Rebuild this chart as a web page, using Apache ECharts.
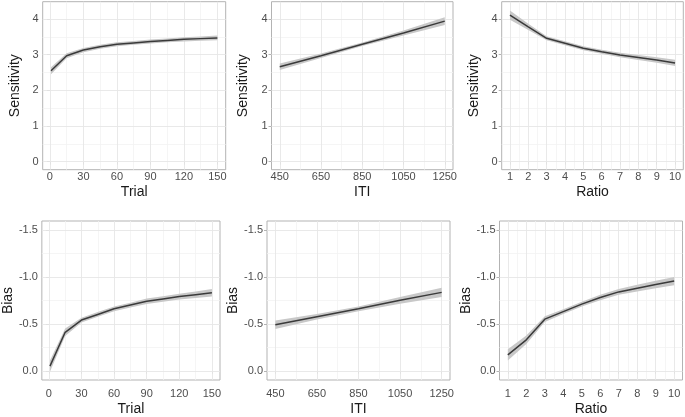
<!DOCTYPE html>
<html>
<head>
<meta charset="utf-8">
<script src="https://cdn.jsdelivr.net/npm/echarts@6/dist/echarts.min.js"></script>
<style>
html,body{margin:0;padding:0;background:#fff;}
#chart{width:685px;height:417px;}
</style>
</head>
<body>
<div id="chart"></div>
<script>
// ---- data ----
var trial = [1, 15, 30, 45, 60, 75, 90, 105, 120, 135, 150];
var iti = [450, 650, 850, 1050, 1250];
var ratio = [1, 2, 3, 4, 5, 6, 7, 8, 9, 10];

var sensTrial   = [2.55, 2.97, 3.13, 3.22, 3.29, 3.33, 3.37, 3.40, 3.43, 3.45, 3.47];
var sensTrialCI = [0.10, 0.07, 0.06, 0.055, 0.055, 0.055, 0.055, 0.055, 0.06, 0.06, 0.065];
var sensITI     = [2.66, 2.97, 3.29, 3.61, 3.94];
var sensITICI   = [0.09, 0.06, 0.05, 0.07, 0.11];
var sensRatio   = [4.11, 3.78, 3.46, 3.32, 3.18, 3.08, 2.99, 2.92, 2.85, 2.77];
var sensRatioCI = [0.13, 0.09, 0.055, 0.055, 0.055, 0.055, 0.065, 0.07, 0.075, 0.085];

var biasTrial   = [-0.05, -0.41, -0.54, -0.60, -0.66, -0.70, -0.74, -0.765, -0.79, -0.81, -0.83];
var biasTrialCI = [0.06, 0.04, 0.025, 0.025, 0.025, 0.025, 0.03, 0.03, 0.03, 0.035, 0.04];
var biasITI     = [-0.49, -0.575, -0.66, -0.75, -0.835];
var biasITICI   = [0.045, 0.03, 0.025, 0.035, 0.05];
var biasRatio   = [-0.17, -0.33, -0.55, -0.63, -0.71, -0.78, -0.84, -0.88, -0.92, -0.955];
var biasRatioCI = [0.06, 0.045, 0.03, 0.025, 0.025, 0.03, 0.03, 0.035, 0.04, 0.045];

// tick labels / breaks
var trialTicks = [0, 30, 60, 90, 120, 150];
var trialMinor = [15, 45, 75, 105, 135];
var itiTicks = [450, 650, 850, 1050, 1250];
var itiMinor = [550, 750, 950, 1150];
var ratioTicks = [1, 2, 3, 4, 5, 6, 7, 8, 9, 10];
var ratioMinor = [1.5, 2.5, 3.5, 4.5, 5.5, 6.5, 7.5, 8.5, 9.5];
var sensTicks = [0, 1, 2, 3, 4];
var sensMinor = [0.5, 1.5, 2.5, 3.5];
var biasTicks = [-1.5, -1.0, -0.5, 0];
var biasMinor = [-1.25, -0.75, -0.25];

// ---- layout ----
var FONT = 'Liberation Sans, Arial, sans-serif';
var panels = [
  {x: trial, y: sensTrial, ci: sensTrialCI, xt: trialTicks, xm: trialMinor, yt: sensTicks, ym: sensMinor, xr: [-6.45, 157.45], yr: [-0.224, 4.485], inv: false, xn: 'Trial', yn: 'Sensitivity', g: {left: 42.7, top: 1.7, width: 183, height: 168}},
  {x: iti, y: sensITI, ci: sensITICI, xt: itiTicks, xm: itiMinor, yt: sensTicks, ym: sensMinor, xr: [410, 1290], yr: [-0.224, 4.485], inv: false, xn: 'ITI', yn: 'Sensitivity', g: {left: 271.5, top: 1.7, width: 181.5, height: 168}},
  {x: ratio, y: sensRatio, ci: sensRatioCI, xt: ratioTicks, xm: ratioMinor, yt: sensTicks, ym: sensMinor, xr: [0.55, 10.45], yr: [-0.224, 4.485], inv: false, xn: 'Ratio', yn: 'Sensitivity', g: {left: 501.7, top: 1.7, width: 181.6, height: 168}},
  {x: trial, y: biasTrial, ci: biasTrialCI, xt: trialTicks, xm: trialMinor, yt: biasTicks, ym: biasMinor, xr: [-6.45, 157.45], yr: [-1.595, 0.098], inv: true, xn: 'Trial', yn: 'Bias', g: {left: 36.7, top: 221, width: 183.3, height: 160.5}},
  {x: iti, y: biasITI, ci: biasITICI, xt: itiTicks, xm: itiMinor, yt: biasTicks, ym: biasMinor, xr: [410, 1290], yr: [-1.595, 0.098], inv: true, xn: 'ITI', yn: 'Bias', g: {left: 267, top: 221, width: 183, height: 160.5}},
  {x: ratio, y: biasRatio, ci: biasRatioCI, xt: ratioTicks, xm: ratioMinor, yt: biasTicks, ym: biasMinor, xr: [0.55, 10.45], yr: [-1.595, 0.098], inv: true, xn: 'Ratio', yn: 'Bias', g: {left: 499.5, top: 221, width: 183, height: 160.5}}
];

var grids = [], xAxes = [], yAxes = [], series = [];
panels.forEach(function (p, i) {
  grids.push(Object.assign({show: true, borderColor: '#b3b3b3', borderWidth: 1, containLabel: false}, p.g));
  var isBias = p.inv;
  xAxes.push({
    type: 'value', gridIndex: i, min: p.xr[0], max: p.xr[1],
    name: p.xn, nameLocation: 'middle', nameGap: isBias ? 22 : 15,
    nameTextStyle: {fontFamily: FONT, fontSize: 14, color: '#1a1a1a'},
    axisLine: {show: false},
    axisTick: {show: true, length: 3, lineStyle: {color: '#b3b3b3', width: 1}, customValues: p.xt},
    axisLabel: {show: true, margin: isBias ? 8 : 2, fontFamily: FONT, fontSize: 11, color: '#4d4d4d', customValues: p.xt,
      formatter: function (v) { return String(v); }},
    splitLine: {show: false}
  });
  yAxes.push({
    type: 'value', gridIndex: i, min: p.yr[0], max: p.yr[1], inverse: p.inv,
    name: p.yn, nameLocation: 'middle', nameGap: 21,
    nameTextStyle: {fontFamily: FONT, fontSize: 14, color: '#1a1a1a'},
    axisLine: {show: false},
    axisTick: {show: true, length: 3, lineStyle: {color: '#b3b3b3', width: 1}, customValues: p.yt},
    axisLabel: {show: true, margin: 4, fontFamily: FONT, fontSize: 11, color: '#4d4d4d', customValues: p.yt,
      formatter: isBias ? function (v) { return (Math.abs(v) < 1e-9 ? 0 : v).toFixed(1); } : function (v) { return String(v); }},
    splitLine: {show: false}
  });
  var mid = [], rib = [];
  for (var k = 0; k < p.x.length; k++) {
    mid.push([p.x[k], p.y[k]]);
    rib.push([p.x[k], p.y[k] - p.ci[k], p.y[k] + p.ci[k]]);
  }
  var majorLines = [], minorLines = [];
  p.xt.forEach(function (v) { majorLines.push({xAxis: v}); });
  p.yt.forEach(function (v) { majorLines.push({yAxis: v}); });
  p.xm.forEach(function (v) { minorLines.push({xAxis: v}); });
  p.ym.forEach(function (v) { minorLines.push({yAxis: v}); });
  // grid lines helper series
  series.push({
    type: 'line', xAxisIndex: i, yAxisIndex: i, data: mid, z: 1, silent: true, animation: false,
    showSymbol: false, symbol: 'none', lineStyle: {opacity: 0},
    markLine: {z: 1, silent: true, symbol: ['none', 'none'], label: {show: false}, animation: false,
      lineStyle: {color: '#f2f2f2', width: 0.8, type: 'solid'}, emphasis: {disabled: true}, data: minorLines}
  });
  series.push({
    type: 'line', xAxisIndex: i, yAxisIndex: i, data: mid, z: 1, silent: true, animation: false,
    showSymbol: false, symbol: 'none', lineStyle: {opacity: 0},
    markLine: {z: 2, silent: true, symbol: ['none', 'none'], label: {show: false}, animation: false,
      lineStyle: {color: '#e6e6e6', width: 0.9, type: 'solid'}, emphasis: {disabled: true}, data: majorLines}
  });
  // ribbon (custom polygon through the axis scales)
  (function (rows) {
    series.push({
      type: 'custom', xAxisIndex: i, yAxisIndex: i, data: rows, z: 3, silent: true, animation: false,
      encode: {x: 0, y: [1, 2]},
      renderItem: function (params, api) {
        if (params.dataIndex !== 0) return null;
        var pts = [];
        for (var a = 0; a < rows.length; a++) pts.push(api.coord([rows[a][0], rows[a][2]]));
        for (var b = rows.length - 1; b >= 0; b--) pts.push(api.coord([rows[b][0], rows[b][1]]));
        return {type: 'polygon', shape: {points: pts}, style: {fill: '#c8c8c8'}};
      }
    });
  })(rib);
  // fitted line
  series.push({
    type: 'line', xAxisIndex: i, yAxisIndex: i, data: mid, z: 4,
    silent: true, animation: false, showSymbol: false, symbol: 'none',
    lineStyle: {color: '#3a3a3a', width: 1.5}
  });
});

var chart = echarts.init(document.getElementById('chart'), null, {renderer: 'canvas'});
chart.setOption({
  animation: false,
  backgroundColor: '#ffffff',
  grid: grids, xAxis: xAxes, yAxis: yAxes, series: series
});
</script>
</body>
</html>
